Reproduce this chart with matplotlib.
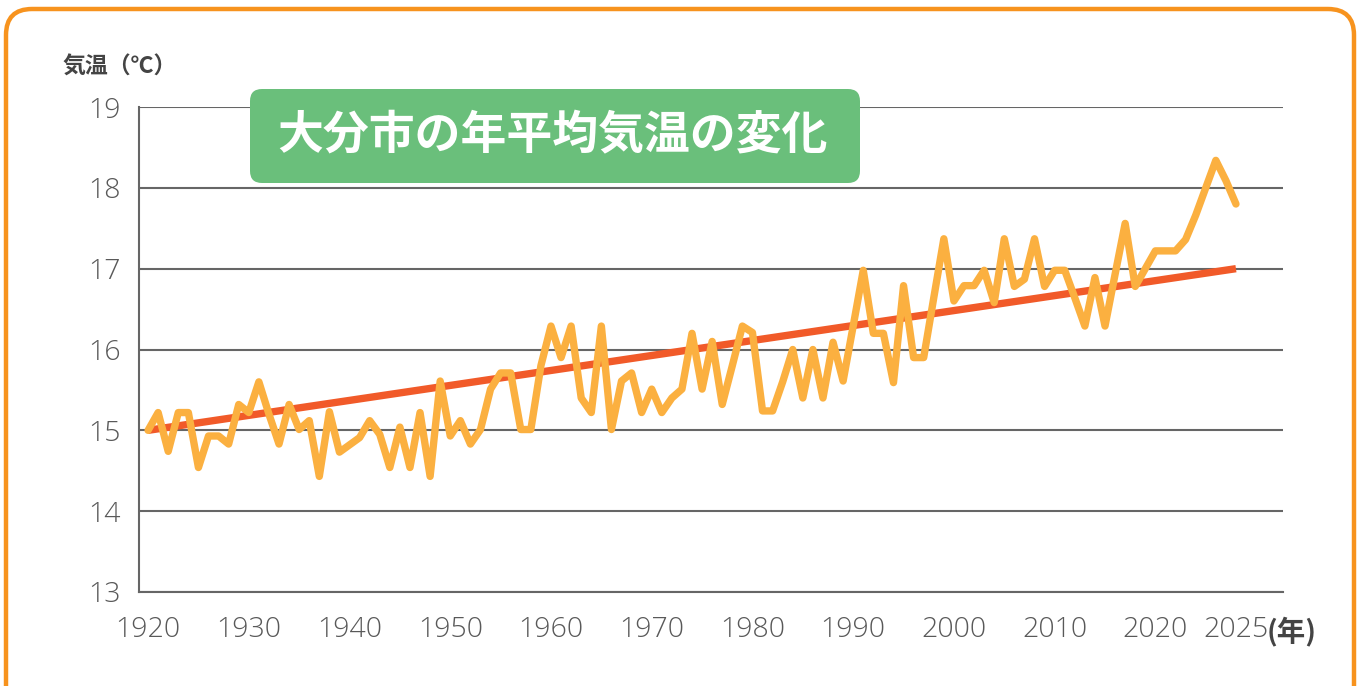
import numpy as np
import matplotlib.pyplot as plt
from matplotlib.patches import FancyBboxPatch
from matplotlib.transforms import IdentityTransform

plt.rcParams['font.family'] = ['Noto Sans CJK JP', 'DejaVu Sans']

# 大分市の年平均気温（℃）、グラフから読み取り
temps = [
    15.00, 15.22, 14.74, 15.22, 15.22, 14.54, 14.93, 14.93, 14.83, 15.32,
    15.22, 15.60, 15.20, 14.83, 15.32, 15.01, 15.12, 14.43, 15.23, 14.73,
    14.82, 14.91, 15.12, 14.95, 14.54, 15.04, 14.54, 15.22, 14.43, 15.61,
    14.93, 15.12, 14.83, 15.01, 15.51, 15.71, 15.71, 15.01, 15.01, 15.80,
    16.29, 15.90, 16.29, 15.40, 15.22, 16.29, 15.01, 15.61, 15.71, 15.22,
    15.51, 15.22, 15.40, 15.51, 16.20, 15.51, 16.10, 15.32, 15.80, 16.29,
    16.21, 15.24, 15.24, 15.60, 16.00, 15.40, 16.00, 15.40, 16.09, 15.61,
    16.29, 16.98, 16.20, 16.20, 15.59, 16.79, 15.90, 15.90, 16.64, 17.37,
    16.60, 16.79, 16.79, 16.98, 16.58, 17.37, 16.78, 16.87, 17.37, 16.78,
    16.98, 16.98, 16.64, 16.29, 16.89, 16.29, 16.93, 17.56, 16.78, 17.00,
    17.22, 17.22, 17.22, 17.36, 17.66, 18.00, 18.34, 18.09, 17.80,
]
years = np.arange(1920, 1920 + len(temps))
trend = [15.0, 17.0]  # 近似直線の始点・終点

y_ticks = [13, 14, 15, 16, 17, 18, 19]
x_tick_years = [1920, 1930, 1940, 1950, 1960, 1970, 1980, 1990, 2000, 2010, 2020]
x_tick_labels = ['1920', '1930', '1940', '1950', '1960', '1970', '1980',
                 '1990', '2000', '2010', '2020', '2025']

title = '大分市の年平均気温の変化'
ylabel = '気温（℃）'
xunit = '(年)'

W, H = 1360, 686
fig = plt.figure(figsize=(W / 100, H / 100), dpi=100)
fig.patch.set_facecolor('white')

# 外枠（オレンジの角丸）
frame = FancyBboxPatch((6, -60), W - 12, H - 9 + 60,
                       boxstyle='round,pad=0,rounding_size=26',
                       transform=IdentityTransform(), facecolor='none',
                       edgecolor='#F7931E', lw=3.2, zorder=-1)
fig.patches.append(frame)

ax = fig.add_axes([139 / W, 94 / H, 1144 / W, 485 / H])
ax.set_facecolor('none')

ax.plot([years[0], years[-1]], trend, color='#F15A29', lw=5.3,
        solid_capstyle='butt', zorder=3)
ax.plot(years, temps, color='#FBB040', lw=5.3, solid_capstyle='round',
        solid_joinstyle='round', zorder=4)

ax.set_xlim(1919.1, 2032.67)
ax.set_ylim(13, 19)
ax.set_yticks(y_ticks)
ax.set_xticks(x_tick_years + [years[-1]])
ax.set_xticklabels(x_tick_labels)

ax.yaxis.grid(True, color='#666666', lw=1.5)
ax.set_axisbelow(True)
for s in ['top', 'right']:
    ax.spines[s].set_visible(False)
for s in ['left', 'bottom']:
    ax.spines[s].set_color('#666666')
    ax.spines[s].set_linewidth(1.5)

ax.tick_params(axis='both', length=0, labelsize=20.5, labelcolor='#595959')
ax.tick_params(axis='y', pad=13)
ax.tick_params(axis='x', pad=17)
for lab in ax.get_xticklabels() + ax.get_yticklabels():
    lab.set_family(['Open Sans', 'DejaVu Sans'])
    lab.set_weight('light')

fig.text(1267 / W, 1 - 631 / H, xunit, ha='left', va='center',
         fontsize=20.5, color='#444444', weight='bold')
fig.text(62 / W, 1 - 67 / H, ylabel, ha='left', va='center',
         fontsize=16.5, color='#444444', weight='bold')

# タイトルの緑ボックス
tbox = FancyBboxPatch((250, H - 183), 610, 94,
                      boxstyle='round,pad=0,rounding_size=12',
                      transform=IdentityTransform(), facecolor='#6ABF7B',
                      edgecolor='none', zorder=5)
fig.patches.append(tbox)
fig.text(553 / W, 1 - 136 / H, title, ha='center', va='center',
         fontsize=33, color='white', weight='bold', zorder=6)

fig.savefig('out.png', dpi=100)
